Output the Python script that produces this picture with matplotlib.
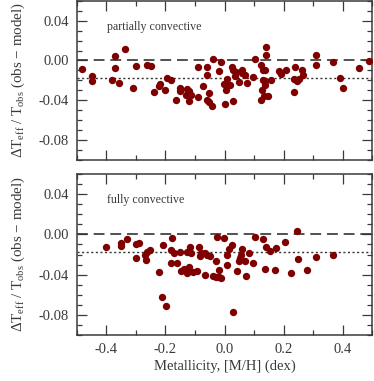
import matplotlib
matplotlib.use("Agg")
import matplotlib.pyplot as plt
from matplotlib.ticker import MultipleLocator

# ---- data ----
partial_mh = [-0.483, -0.450, -0.448, -0.370, -0.370, -0.336, -0.380, -0.359, -0.311, -0.299,
              -0.262, -0.249, -0.238, -0.218, -0.221, -0.201, -0.196, -0.180, -0.166, -0.151,
              -0.152, -0.127, -0.119, -0.129, -0.114, -0.122, -0.091, -0.089, -0.061, -0.061,
              -0.072, -0.061, -0.051, -0.042, -0.051, -0.039, -0.019, -0.011, -0.003, 0.008,
              0.006, 0.000, 0.019, 0.024, 0.028, 0.035, 0.038, 0.028, 0.049, 0.058,
              0.060, 0.068, 0.076, 0.096, 0.104, 0.124, 0.130, 0.138, 0.139, 0.139,
              0.132, 0.138, 0.128, 0.138, 0.135, 0.148, 0.124, 0.158, 0.185, 0.190,
              0.208, 0.239, 0.235, 0.236, 0.246, 0.254, 0.265, 0.264, 0.311, 0.311,
              0.367, 0.392, 0.402, 0.455, 0.489]
partial_dt = [-0.009, -0.016, -0.021, 0.004, -0.008, 0.012, -0.020, -0.023, -0.028, -0.006,
              -0.005, -0.006, -0.032, -0.024, -0.026, -0.030, -0.018, -0.020, -0.040, -0.028,
              -0.031, -0.029, -0.031, -0.035, -0.035, -0.041, -0.037, -0.007, -0.007, -0.015,
              -0.026, -0.040, -0.042, -0.046, -0.033, 0.001, -0.011, -0.002, -0.024, -0.019,
              -0.030, -0.044, -0.025, -0.007, -0.010, -0.016, -0.012, -0.041, -0.022, -0.010,
              -0.013, -0.015, -0.023, -0.017, 0.001, -0.005, -0.010, -0.010, 0.014, 0.005,
              -0.020, -0.021, -0.030, -0.025, -0.036, -0.036, -0.040, -0.020, -0.011, -0.014,
              -0.010, -0.007, -0.032, -0.019, -0.021, -0.019, -0.015, -0.010, 0.005, -0.005,
              -0.002, -0.018, -0.028, -0.008, -0.001]

full_mh = [-0.401, -0.350, -0.352, -0.332, -0.300, -0.291, -0.301, -0.271, -0.263, -0.254,
           -0.265, -0.223, -0.209, -0.213, -0.200, -0.178, -0.180, -0.172, -0.182, -0.160,
           -0.151, -0.148, -0.136, -0.128, -0.128, -0.117, -0.114, -0.119, -0.106, -0.094,
           -0.088, -0.084, -0.079, -0.066, -0.058, -0.050, -0.065, -0.038, -0.028, -0.020,
           -0.011, -0.030, -0.025, -0.001, -0.019, 0.008, 0.008, 0.015, 0.027, 0.029,
           0.041, 0.048, 0.052, 0.056, 0.058, 0.070, 0.074, 0.084, 0.098, 0.102,
           0.132, 0.137, 0.142, 0.154, 0.173, 0.171, 0.204, 0.226, 0.245, 0.249,
           0.279, 0.310, 0.367]
full_dt = [-0.013, -0.009, -0.012, -0.005, -0.010, -0.009, -0.023, -0.020, -0.018, -0.016,
           -0.025, -0.037, -0.011, -0.062, -0.071, -0.004, -0.016, -0.019, -0.028, -0.028,
           -0.018, -0.036, -0.034, -0.038, -0.018, -0.013, -0.019, -0.032, -0.037, -0.036,
           -0.013, -0.021, -0.019, -0.019, -0.020, -0.021, -0.040, -0.041, -0.042, -0.042,
           -0.043, -0.026, -0.003, -0.004, -0.035, -0.030, -0.020, -0.015, -0.011, -0.077,
           -0.036, -0.026, -0.023, -0.020, -0.015, -0.026, -0.041, -0.019, -0.028, -0.003,
           -0.005, -0.034, -0.013, -0.017, -0.014, -0.035, -0.008, -0.038, 0.003, -0.024,
           -0.035, -0.022, -0.020]

mean_offset = -0.018
panel_labels = ["partially convective", "fully convective"]
x_label = "Metallicity, [M/H] (dex)"
y_label = r"$\Delta\mathrm{T}_{\rm eff}\ /\ \mathrm{T}_{\rm obs}$ (obs $-$ model)"

# ---- style ----
plt.rcParams["font.family"] = ["Liberation Serif", "DejaVu Serif"]
plt.rcParams["mathtext.fontset"] = "custom"
plt.rcParams["mathtext.rm"] = "Liberation Serif"
plt.rcParams["mathtext.it"] = "Liberation Serif:italic"
plt.rcParams["mathtext.bf"] = "Liberation Serif:bold"

txt_col = "#3a3a3a"
spine_col = "#3a3a3a"
pt_col = "#7f0000"

fig = plt.figure(figsize=(3.74, 3.81), dpi=100)
W, H = 374.0, 381.0
ax1 = fig.add_axes([77 / W, 1 - 159.5 / H, (372 - 77) / W, (159.5 - 1) / H])
ax2 = fig.add_axes([77 / W, 1 - 335 / H, (372 - 77) / W, (335 - 174) / H])

for ax, mh, dt, lab in [(ax1, partial_mh, partial_dt, panel_labels[0]),
                        (ax2, full_mh, full_dt, panel_labels[1])]:
    ax.axhline(0.0, color="#333333", lw=1.2, dashes=(6.5, 3.5), zorder=2)
    ax.axhline(mean_offset, color="#333333", lw=1.0, dashes=(1.5, 1.8), zorder=2)
    ax.scatter(mh, dt, s=28, color=pt_col, linewidths=0, zorder=3)
    ax.set_xlim(-0.5, 0.5)
    ax.set_ylim(-0.1, 0.06)
    ax.xaxis.set_major_locator(MultipleLocator(0.2))
    ax.xaxis.set_minor_locator(MultipleLocator(0.1))
    ax.yaxis.set_major_locator(MultipleLocator(0.04))
    ax.yaxis.set_minor_locator(MultipleLocator(0.01))
    ax.tick_params(which="both", direction="in", top=True, right=True,
                   color=spine_col, width=0.9, labelcolor=txt_col, labelsize=10.5, pad=6)
    ax.tick_params(which="major", length=7)
    ax.tick_params(which="minor", length=3.6)
    ax.yaxis.set_major_formatter(matplotlib.ticker.FormatStrFormatter("%.2f"))
    ax.xaxis.set_major_formatter(matplotlib.ticker.FormatStrFormatter("%.1f"))
    for sp in ax.spines.values():
        sp.set_color(spine_col)
        sp.set_linewidth(1.1)
    ax.text(-0.398, 0.034, lab, ha="left", va="center", fontsize=8.6, color=txt_col)
    ax.set_ylabel(y_label, fontsize=10.8, color=txt_col)
    ax.yaxis.set_label_coords(-0.17, 0.5)

ax1.tick_params(labelbottom=False)
ax2.set_xlabel(x_label, fontsize=10.5, color=txt_col)
ax2.xaxis.set_label_coords(0.5, -0.155)

fig.savefig("out.png", dpi=100)
